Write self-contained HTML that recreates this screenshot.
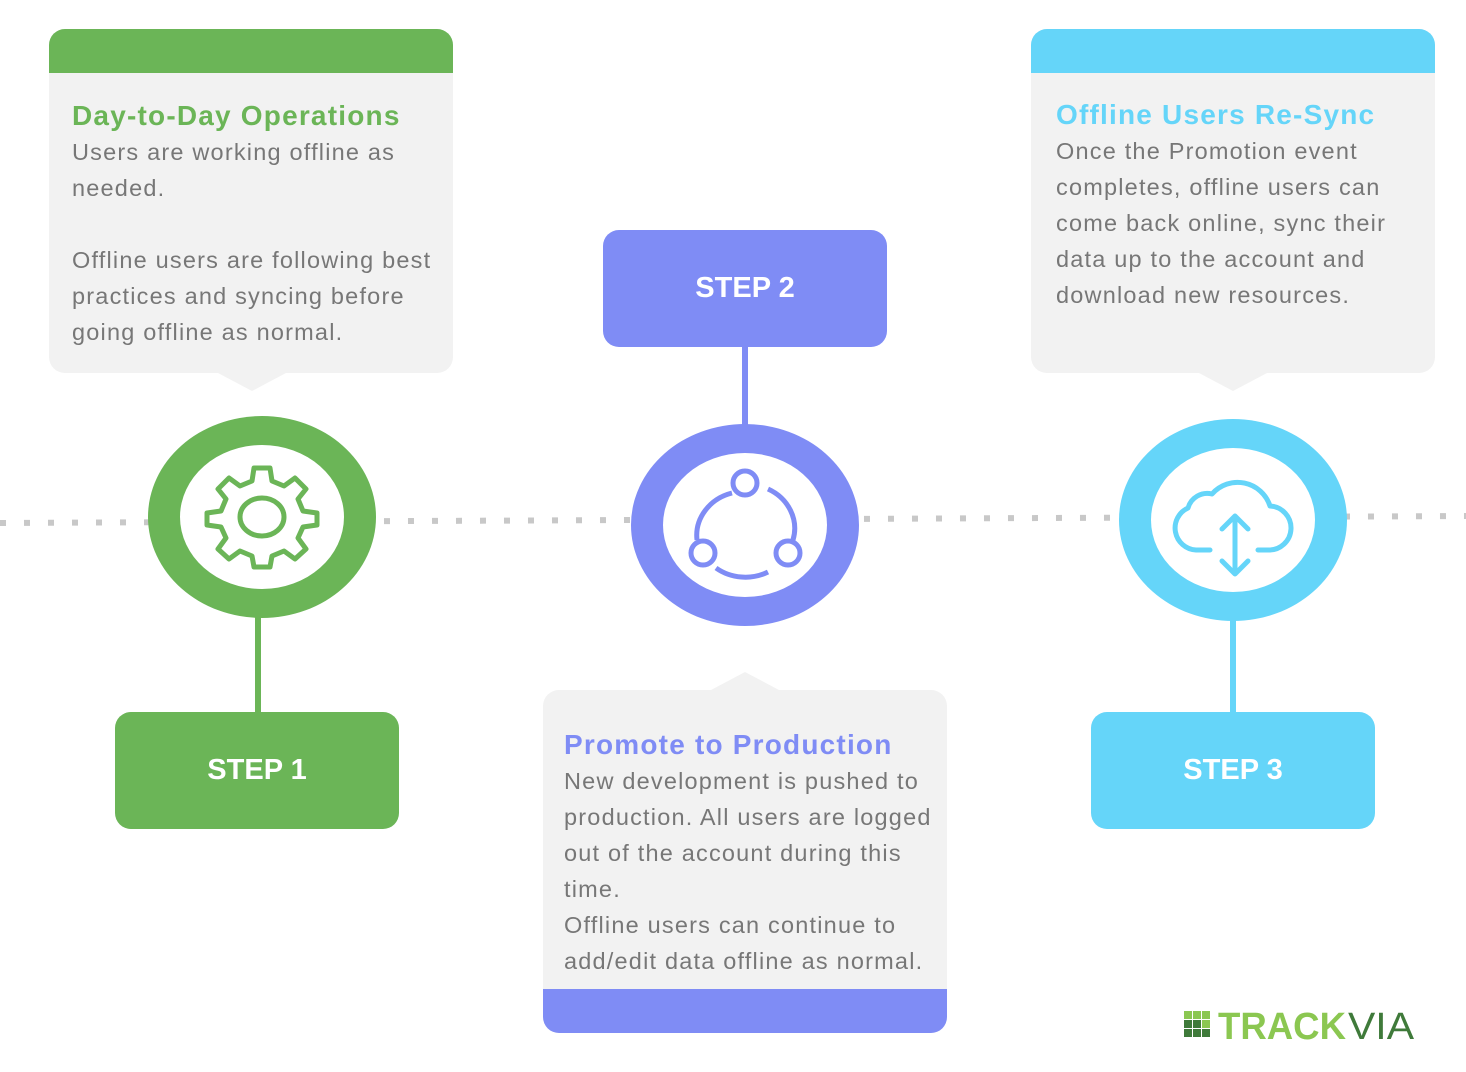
<!DOCTYPE html>
<html><head><style>
body{margin:0;width:1466px;height:1072px;background:#fff;position:relative;overflow:hidden;font-family:"Liberation Sans",sans-serif}
.card{position:absolute;background:#f2f2f2;border-radius:16px;overflow:hidden}
.bar{position:absolute;left:0;right:0;height:44px}
.txt{position:absolute;left:23px;color:#777;font-size:23.5px;line-height:36px;letter-spacing:1.2px;white-space:nowrap}
.txt b{display:block;font-size:28px;line-height:36px;letter-spacing:1.2px}
.step{position:absolute;width:284px;height:117px;border-radius:16px;color:#fff;font-weight:bold;font-size:29px;display:flex;align-items:center;justify-content:center}
.tri{position:absolute;width:0;height:0;border-left:34px solid transparent;border-right:34px solid transparent}
</style></head><body>
<svg width="1466" height="1072" style="position:absolute;left:0;top:0">
<line x1="0" y1="523" x2="1466" y2="516" stroke="#c8c8c8" stroke-width="6" stroke-dasharray="6 18"/>
<rect x="255" y="600" width="6" height="115" fill="#6bb557"/>
<rect x="742" y="340" width="6" height="90" fill="#7f8cf5"/>
<rect x="1230" y="600" width="6" height="115" fill="#65d5f9"/>
<ellipse cx="262" cy="517" rx="114" ry="101" fill="#6bb557"/>
<ellipse cx="262" cy="517" rx="82" ry="72" fill="#fff"/>
<ellipse cx="745" cy="525" rx="114" ry="101" fill="#7f8cf5"/>
<ellipse cx="745" cy="525" rx="82" ry="72" fill="#fff"/>
<ellipse cx="1233" cy="520" rx="114" ry="101" fill="#65d5f9"/>
<ellipse cx="1233" cy="520" rx="82" ry="72" fill="#fff"/>
<g transform="translate(262,517)" fill="none" stroke="#6bb557" stroke-width="5" stroke-linejoin="round">
<path d="M-8,-49 L8,-49 L10,-36 L22,-31 L33,-39 L44,-28 L36,-18 L41,-6 L55,-4 L55,8 L41,10 L36,21 L44,32 L33,42 L22,34 L10,39 L8,50 L-8,50 L-10,39 L-22,34 L-33,42 L-44,32 L-36,21 L-41,10 L-55,8 L-55,-4 L-41,-6 L-36,-18 L-44,-28 L-33,-39 L-22,-31 L-10,-36 Z"/>
<ellipse cx="0" cy="0" rx="22" ry="19"/>
</g>
<g fill="none" stroke="#7f8cf5" stroke-width="5">
<path d="M732,493 A48,44 0 0 0 697,540"/>
<path d="M768,489 A48,44 0 0 1 793,540"/>
<path d="M716,568 A48,44 0 0 0 768,572"/>
<circle cx="745" cy="483" r="12"/>
<circle cx="703" cy="553" r="12"/>
<circle cx="788" cy="553" r="12"/>
</g>
<g fill="none" stroke="#65d5f9" stroke-width="5" stroke-linecap="round" stroke-linejoin="round">
<path d="M1210,550 L1196,550 A22,22 0 0 1 1188,508 A20,20 0 0 1 1212,494 A34,34 0 0 1 1270,506 A22,22 0 0 1 1268,550 L1258,550"/>
<path d="M1235,516 L1235,574 M1222,529 L1235,516 L1248,529 M1222,561 L1235,574 L1248,561"/>
</g>
<g>
<rect x="1184" y="1011" width="8" height="8" fill="#8bc751"/><rect x="1193" y="1011" width="8" height="8" fill="#8bc751"/><rect x="1202" y="1011" width="8" height="8" fill="#8bc751"/>
<rect x="1184" y="1020" width="8" height="8" fill="#3f7a3a"/><rect x="1193" y="1020" width="8" height="8" fill="#3f7a3a"/><rect x="1202" y="1020" width="8" height="8" fill="#8bc751"/>
<rect x="1184" y="1029" width="8" height="8" fill="#3f7a3a"/><rect x="1193" y="1029" width="8" height="8" fill="#3f7a3a"/><rect x="1202" y="1029" width="8" height="8" fill="#3f7a3a"/>
<text x="1218" y="1039" font-family="Liberation Sans" font-size="38" font-weight="bold" fill="#8bc751" textLength="128" lengthAdjust="spacingAndGlyphs">TRACK</text>
<text x="1348" y="1039" font-family="Liberation Sans" font-size="38" fill="#3f7a3a" textLength="66" lengthAdjust="spacingAndGlyphs">VIA</text>
</g>
</svg>

<div class="card" style="left:49px;top:29px;width:404px;height:344px">
<div class="bar" style="top:0;background:#6bb557"></div>
<div class="txt" style="top:69px"><b style="color:#6bb557">Day-to-Day Operations</b>Users are working offline as<br>needed.<br><br>Offline users are following best<br>practices and syncing before<br>going offline as normal.</div>
</div>
<div class="tri" style="left:218px;top:373px;border-top:18px solid #f2f2f2"></div>

<div class="card" style="left:1031px;top:29px;width:404px;height:344px">
<div class="bar" style="top:0;background:#65d5f9"></div>
<div class="txt" style="top:68px;left:25px"><b style="color:#65d5f9">Offline Users Re-Sync</b>Once the Promotion event<br>completes, offline users can<br>come back online, sync their<br>data up to the account and<br>download new resources.</div>
</div>
<div class="tri" style="left:1199px;top:373px;border-top:18px solid #f2f2f2"></div>

<div class="card" style="left:543px;top:690px;width:404px;height:343px">
<div class="bar" style="bottom:0;background:#7f8cf5"></div>
<div class="txt" style="top:37px;left:21px"><b style="color:#7f8cf5">Promote to Production</b>New development is pushed to<br>production. All users are logged<br>out of the account during this<br>time.<br>Offline users can continue to<br>add/edit data offline as normal.</div>
</div>
<div class="tri" style="left:711px;top:672px;border-bottom:18px solid #f2f2f2"></div>

<div class="step" style="left:115px;top:712px;background:#6bb557">STEP 1</div>
<div class="step" style="left:603px;top:230px;background:#7f8cf5">STEP 2</div>
<div class="step" style="left:1091px;top:712px;background:#65d5f9">STEP 3</div>
</body></html>
